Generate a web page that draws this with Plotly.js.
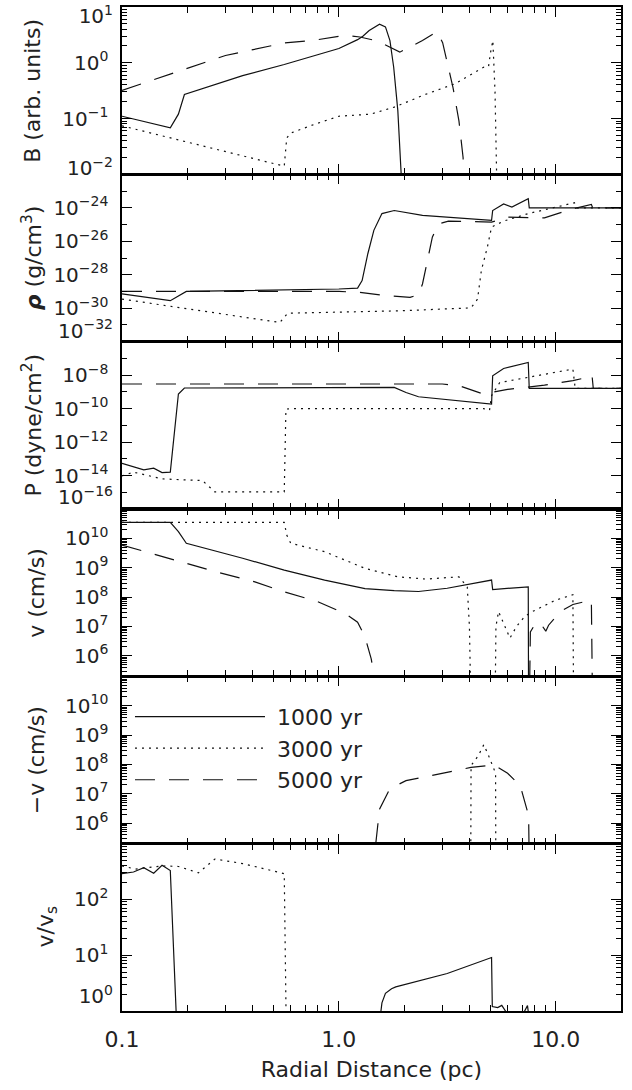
<!DOCTYPE html>
<html><head><meta charset="utf-8">
<script src="https://cdn.plot.ly/plotly-3.0.1.min.js"></script>
<style>body{margin:0;background:#fff}#chart{width:632px;height:1090px}</style>
</head><body><div id="chart"></div>
<script>
// ---------- data (radial distance in pc) ----------
// Panel 1: B (arb. units)
const B1000_x = [0.1, 0.167, 0.182, 0.194, 0.36, 0.56, 1.0, 1.22, 1.29, 1.38, 1.54, 1.64, 1.72, 1.79, 1.87, 1.96, 2.0];
const B1000   = [0.11, 0.068, 0.12, 0.27, 0.59, 0.93, 1.8, 2.6, 3.0, 3.8, 4.9, 4.4, 2.5, 0.83, 0.14, 0.01, 0.001];
const B3000_x = [0.1, 0.56, 0.575, 0.6, 0.78, 1.0, 1.4, 1.8, 2.5, 3.43, 4.64, 4.9, 5.0, 5.13, 5.25, 5.4];
const B3000   = [0.074, 0.014, 0.045, 0.055, 0.08, 0.11, 0.12, 0.16, 0.27, 0.42, 0.83, 0.85, 1.5, 2.5, 0.3, 0.001];
const B5000_x = [0.1, 0.174, 0.3, 0.56, 0.75, 1.07, 1.25, 1.51, 1.91, 2.43, 2.83, 3.01, 3.2, 3.36, 3.58, 3.74, 3.85];
const B5000   = [0.32, 0.67, 1.35, 2.26, 2.5, 3.1, 2.9, 2.45, 1.55, 2.5, 3.6, 2.3, 0.8, 0.36, 0.09, 0.02, 0.001];

// Panel 2: rho (g/cm^3)
const rho1000_x = [0.1, 0.167, 0.198, 0.5, 1.0, 1.22, 1.28, 1.36, 1.45, 1.58, 1.8, 2.43, 3.16, 5.06, 5.12, 5.75, 6.28, 7.47, 7.55, 20];
const rho1000   = [7.2e-30, 2.8e-30, 1.0e-29, 1.2e-29, 1.4e-29, 1.6e-29, 4.5e-29, 1.8e-27, 4.5e-26, 4.5e-25, 6.9e-25, 3.5e-25, 2.75e-25, 1.8e-25, 6.9e-25, 1.7e-24, 1.1e-24, 3.5e-24, 1.0e-24, 1.0e-24];
const rho3000_x = [0.1, 0.535, 0.58, 1.0, 2.0, 4.07, 4.36, 4.54, 4.84, 5.06, 5.75, 7.47, 11.5, 12.2, 12.5, 20];
const rho3000   = [3.5e-30, 1.4e-31, 5.0e-31, 5.6e-31, 7.1e-31, 1.05e-30, 3.5e-30, 1.8e-28, 4.5e-27, 7.1e-26, 1.6e-25, 4.5e-25, 1.7e-24, 2.0e-24, 1.0e-24, 1.0e-24];
const rho5000_x = [0.1, 1.0, 1.25, 1.64, 2.13, 2.33, 2.43, 2.53, 2.7, 2.89, 3.2, 5.06, 6.0, 8.87, 12.0, 14.6, 14.8, 20];
const rho5000   = [1.0e-29, 1.0e-29, 8.9e-30, 5.6e-30, 4.5e-30, 6.3e-30, 2.8e-29, 2.8e-28, 1.8e-26, 1.1e-25, 1.6e-25, 1.4e-25, 2.75e-25, 2.5e-25, 8.7e-25, 1.6e-24, 1.0e-24, 1.0e-24];

// Panel 3: P (dyne/cm^2)
const P1000_x = [0.1, 0.126, 0.14, 0.153, 0.167, 0.182, 0.194, 1.0, 1.8, 2.04, 2.33, 5.06, 5.12, 5.75, 7.47, 7.55, 20];
const P1000   = [5.4e-14, 2.2e-14, 2.75e-14, 1.5e-14, 1.6e-14, 7.4e-10, 1.7e-9, 1.78e-9, 1.86e-9, 9.1e-10, 5.1e-10, 1.86e-10, 9.1e-9, 2.5e-8, 5.75e-8, 1.6e-9, 1.6e-9];
const P3000_x = [0.1, 0.113, 0.153, 0.216, 0.235, 0.268, 0.56, 0.57, 0.6, 2.0, 4.64, 4.95, 5.06, 5.52, 7.47, 12.0, 12.3, 20];
const P3000   = [9.5e-15, 1.6e-14, 6.3e-15, 5.6e-15, 5.0e-15, 1.05e-15, 1.05e-15, 9.3e-11, 1.0e-10, 1.0e-10, 1.0e-10, 7.9e-11, 5.9e-10, 3.6e-9, 7.4e-9, 2.3e-8, 1.6e-9, 1.6e-9];
const P5000_x = [0.1, 3.0, 3.6, 4.07, 4.64, 5.2, 6.0, 8.87, 12.0, 14.4, 14.7, 14.9, 20];
const P5000   = [2.95e-9, 2.95e-9, 2.3e-9, 1.26e-9, 7.4e-10, 1.0e-9, 1.4e-9, 2.5e-9, 4.7e-9, 7.9e-9, 1.0e-8, 1.6e-9, 1.6e-9];

// Panel 4: v (cm/s)
const v1000_x = [0.1, 0.167, 0.182, 0.198, 0.36, 0.56, 0.86, 1.32, 1.8, 2.33, 3.16, 5.06, 5.12, 7.47, 7.5];
const v1000   = [3.5e10, 3.5e10, 1.7e10, 6.8e9, 2.1e9, 8.3e8, 3.8e8, 1.95e8, 1.66e8, 1.55e8, 2.0e8, 3.8e8, 1.8e8, 2.24e8, 1e4];
const v3000_x = [0.1, 0.56, 0.575, 0.6, 0.86, 1.32, 1.87, 2.53, 3.58, 3.91, 4.0, 4.07, 4.5, 5.25, 5.3, 5.45, 5.8, 6.15, 6.6, 7.2, 7.8, 10.0, 12.0, 12.1];
const v3000   = [3.5e10, 3.5e10, 1.3e10, 6.8e9, 3.5e9, 9.5e8, 4.9e8, 4.1e8, 4.9e8, 2.2e8, 1e7, 1e4, null, 1e4, 1e7, 3.2e7, 1.1e7, 4e6, 1e7, 2.2e7, 3.2e7, 7.9e7, 1.2e8, 1e4];
const v5000_x = [0.1, 0.18, 0.28, 0.41, 0.56, 0.79, 1.07, 1.22, 1.32, 1.41, 1.44, 1.47, 4.0, 7.55, 7.64, 8.14, 8.7, 9.0, 9.27, 10.5, 12.0, 14.6, 14.7, 14.8];
const v5000   = [5.9e9, 1.7e9, 6.8e8, 3.3e8, 1.5e8, 7.2e7, 2.75e7, 1.4e7, 4.4e6, 7.9e5, 3.2e5, 1e3, null, 1e4, 6.5e6, 1.4e7, 1.0e7, 6.9e6, 1.1e7, 3.2e7, 5.6e7, 7.9e7, 1e7, 1e4];

// Panel 5: -v (cm/s)
const nv3000_x = [4.05, 4.07, 4.4, 4.66, 4.9, 5.28, 5.3];
const nv3000   = [1e3, 9.1e7, 2e8, 4.7e8, 2e8, 5e7, 1e3];
const nv5000_x = [1.47, 1.48, 1.54, 1.72, 2.04, 2.89, 4.07, 5.2, 6.0, 6.86, 7.5, 7.6];
const nv5000   = [1e3, 2e5, 3.0e6, 1.5e7, 2.8e7, 4.8e7, 7.9e7, 9.5e7, 5e7, 1.9e7, 1.8e6, 1e3];

// Panel 6: v / v_s
const vs1000_x = [0.1, 0.113, 0.126, 0.14, 0.153, 0.167, 0.182, 1.0, 1.53, 1.58, 1.64, 1.75, 1.83, 2.04, 3.16, 5.06, 5.1, 5.4, 5.64, 5.97, 6.5, 7.16, 7.41, 7.64];
const vs1000   = [290, 310, 370, 295, 410, 330, 0.1, null, 0.5, 1.4, 2.07, 2.5, 2.7, 3.0, 4.7, 9.1, 1.2, 1.15, 1.26, 0.9, 0.8, 0.97, 1.25, 0.5];
const vs3000_x = [0.1, 0.115, 0.153, 0.182, 0.225, 0.268, 0.36, 0.56, 0.575];
const vs3000   = [400, 350, 400, 390, 300, 530, 440, 290, 0.1];

// legend names
const seriesNames = ['1000 yr', '3000 yr', '5000 yr'];

// tick labels
const xTickVals = [0.1, 1, 10];
const xTickText = ['0.1', '1.0', '10.0'];

// ---------- styling ----------
const FONT = {family: 'DejaVu Sans, sans-serif', size: 22, color: '#222'};
const TICKFONT = {family: 'DejaVu Sans, sans-serif', size: 20, color: '#222'};
const LINE = [
  {color: '#111', width: 1.2, dash: 'solid'},
  {color: '#111', width: 1.2, dash: '2px,5px'},
  {color: '#111', width: 1.2, dash: '20px,14px'}
];
function sup(e){ return '10<sup>' + (e < 0 ? '\u2212' + (-e) : e) + '</sup>'; }
function logMinors(lo, hi){ const v=[]; for(let e=lo;e<=hi;e++) for(let m=2;m<=9;m++) v.push(m*Math.pow(10,e)); return v; }

const traces = [];
function add(x, y, s, p, legend){
  traces.push({x: x, y: y, type: 'scatter', mode: 'lines', line: LINE[s],
    xaxis: p === 1 ? 'x' : 'x' + p, yaxis: p === 1 ? 'y' : 'y' + p,
    name: '\u00a0' + seriesNames[s], showlegend: !!legend, hoverinfo: 'skip'});
}
add(B1000_x, B1000, 0, 1); add(B3000_x, B3000, 1, 1); add(B5000_x, B5000, 2, 1);
add(rho1000_x, rho1000, 0, 2); add(rho3000_x, rho3000, 1, 2); add(rho5000_x, rho5000, 2, 2);
add(P1000_x, P1000, 0, 3); add(P3000_x, P3000, 1, 3); add(P5000_x, P5000, 2, 3);
add(v1000_x, v1000, 0, 4, true); add(v3000_x, v3000, 1, 4, true); add(v5000_x, v5000, 2, 4, true);
add(nv3000_x, nv3000, 1, 5); add(nv5000_x, nv5000, 2, 5);
add(vs1000_x, vs1000, 0, 6); add(vs3000_x, vs3000, 1, 6);

// major: labels centred on the tick; edge: labels at the frame edge, nudged inward [exponent, shift px (+ = down)]
const yDefs = [
  {range: [-2, 1], major: [-1,0], edge: [[1,9],[-2,-6]], minor: logMinors(-3, 1)},
  {range: [-32, -22], major: [-30,-28,-26,-24], edge: [[-32,-11]], minor: [1e-31,1e-29,1e-27,1e-25,1e-23]},
  {range: [-16, -6], major: [-14,-12,-10,-8], edge: [[-16,-12]], minor: [1e-15,1e-13,1e-11,1e-9,1e-7]},
  {range: [5.3, 11], major: [6,7,8,9,10], edge: [], minor: logMinors(5, 10)},
  {range: [5.3, 11], major: [6,7,8,9,10], edge: [], minor: logMinors(5, 10)},
  {range: [0, 3], major: [1,2], edge: [[0,-15]], minor: logMinors(0, 2)}
];
const titles = ['B (arb. units)', '<b><i>\u03c1</i></b> (g/cm<sup>3</sup>)', 'P (dyne/cm<sup>2</sup>)',
  'v (cm/s)', '\u2212v (cm/s)', 'v/v<sub>s</sub>'];
const titleX = [-0.180, -0.180, -0.180, -0.172, -0.172, -0.150];

const layout = {
  width: 632, height: 1090,
  margin: {l: 122, r: 11, t: 7, b: 79},
  paper_bgcolor: '#fff', plot_bgcolor: '#fff',
  font: FONT,
  showlegend: true,
  legend: {x: 0.016, y: 0.314, xanchor: 'left', yanchor: 'top', bgcolor: 'rgba(0,0,0,0)',
    font: FONT, itemwidth: 130, tracegroupgap: 0},
  annotations: []
};
let extra = 7;
for (let i = 1; i <= 6; i++){
  const d = yDefs[i-1];
  const top = 1 - (i-1)/6, bot = 1 - i/6;
  const yName = i === 1 ? 'y' : 'y' + i;
  const xName = i === 1 ? 'x' : 'x' + i;
  const xa = {
    type: 'log', range: [-1, Math.log10(20)], domain: [0, 1],
    anchor: yName,
    showline: true, linewidth: 1.6, linecolor: '#000', mirror: 'ticks',
    ticks: 'inside', ticklen: 10, tickwidth: 1, tickcolor: '#000',
    tickmode: 'array', tickvals: xTickVals, ticktext: xTickText,
    showticklabels: i === 6, showgrid: false, zeroline: false,
    minor: {ticks: 'inside', ticklen: 6, tickwidth: 1, tickcolor: '#000',
      tickmode: 'array', tickvals: logMinors(-1, 1), showgrid: false},
    tickfont: FONT
  };
  if (i > 1) xa.matches = 'x';
  if (i === 6) { xa.title = {text: 'Radial Distance (pc)', font: FONT, standoff: 10}; xa.ticklabelstandoff = 8; }
  const ya = {
    type: 'log', range: d.range, domain: [bot, top],
    anchor: xName,
    showline: true, linewidth: 1.6, linecolor: '#000', mirror: 'ticks',
    ticks: 'inside', ticklen: 10, tickwidth: 1, tickcolor: '#000',
    tickmode: 'array', tickvals: d.major.map(e => Math.pow(10, e)), ticktext: d.major.map(sup),
    showgrid: false, zeroline: false, ticklabelstandoff: 8,
    minor: {ticks: 'inside', ticklen: 5, tickwidth: 1, tickcolor: '#000',
      tickmode: 'array', tickvals: d.minor, showgrid: false},
    tickfont: TICKFONT
  };
  layout[i === 1 ? 'xaxis' : 'xaxis' + i] = xa;
  layout[i === 1 ? 'yaxis' : 'yaxis' + i] = ya;
  // edge tick labels on overlaying axes (same scale), shifted inward like the original
  d.edge.forEach(([e, shift]) => {
    layout['yaxis' + extra] = {
      type: 'log', range: d.range, overlaying: yName, side: 'left',
      anchor: xName,
      tickmode: 'array', tickvals: [Math.pow(10, e)], ticktext: [sup(e)],
      ticks: '', showline: false, showgrid: false, zeroline: false,
      ticklabelstandoff: 8, ticklabelshift: shift, ticklabeloverflow: 'allow', tickfont: TICKFONT
    };
    // empty trace so the overlay subplot exists (draws nothing)
    traces.push({x: [], y: [], type: 'scatter', mode: 'lines', xaxis: xName, yaxis: 'y' + extra,
      showlegend: false, hoverinfo: 'skip'});
    extra++;
  });
  layout.annotations.push({text: titles[i-1], textangle: -90, showarrow: false,
    xref: 'paper', x: titleX[i-1], xanchor: 'center',
    yref: yName + ' domain', y: 0.5, yanchor: 'middle', font: FONT});
}
Plotly.newPlot('chart', traces, layout, {displayModeBar: false, staticPlot: true});
</script></body></html>
